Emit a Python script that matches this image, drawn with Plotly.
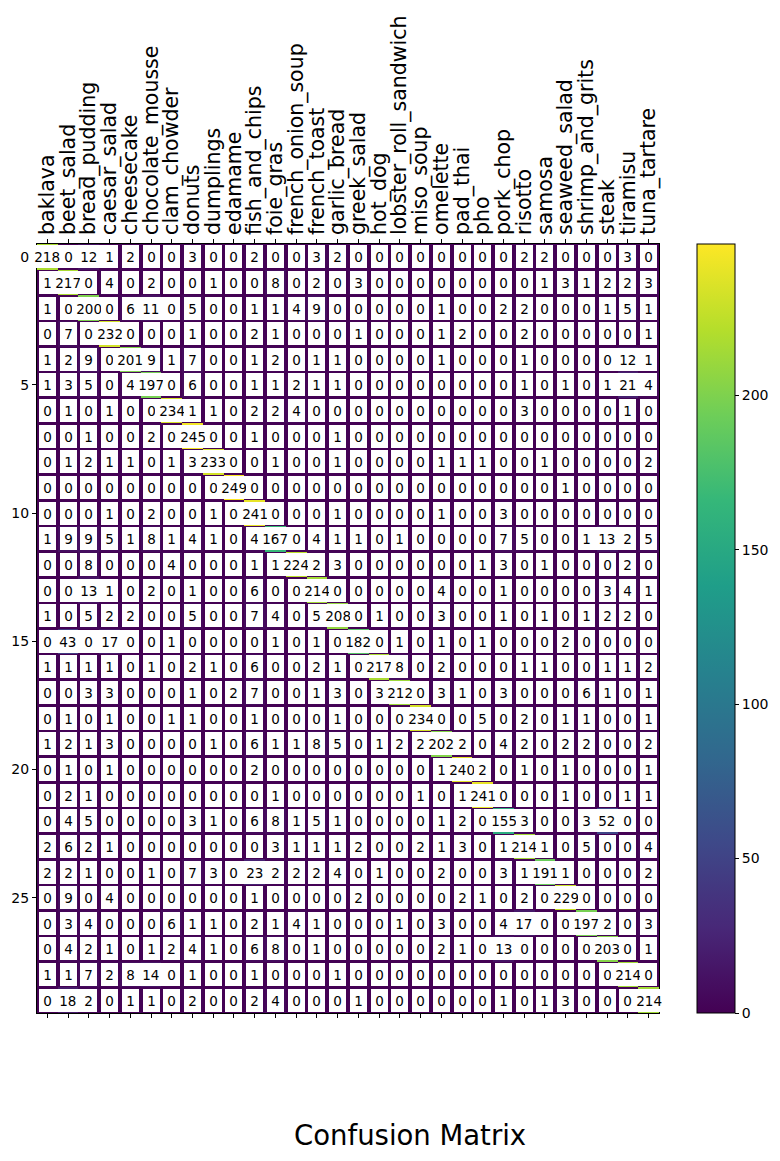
import plotly.graph_objects as go

class_names = [
    "baklava", "beet_salad", "bread_pudding", "caesar_salad", "cheesecake",
    "chocolate_mousse", "clam_chowder", "donuts", "dumplings", "edamame",
    "fish_and_chips", "foie_gras", "french_onion_soup", "french_toast",
    "garlic_bread", "greek_salad", "hot_dog", "lobster_roll_sandwich",
    "miso_soup", "omelette", "pad_thai", "pho", "pork_chop", "risotto",
    "samosa", "seaweed_salad", "shrimp_and_grits", "steak", "tiramisu",
    "tuna_tartare",
]

row_indices = list(range(30))

confusion_rows = [
    [218, 0, 12, 1, 2, 0, 0, 3, 0, 0, 2, 0, 0, 3, 2, 0, 0, 0, 0, 0, 0, 0, 0, 2, 2, 0, 0, 0, 3, 0],
    [1, 217, 0, 4, 0, 2, 0, 0, 1, 0, 0, 8, 0, 2, 0, 3, 0, 0, 0, 0, 0, 0, 0, 0, 1, 3, 1, 2, 2, 3],
    [1, 0, 200, 0, 6, 11, 0, 5, 0, 0, 1, 1, 4, 9, 0, 0, 0, 0, 0, 1, 0, 0, 2, 2, 0, 0, 0, 1, 5, 1],
    [0, 7, 0, 232, 0, 0, 0, 1, 0, 0, 2, 1, 0, 0, 0, 1, 0, 0, 0, 1, 2, 0, 0, 2, 0, 0, 0, 0, 0, 1],
    [1, 2, 9, 0, 201, 9, 1, 7, 0, 0, 1, 2, 0, 1, 1, 0, 0, 0, 0, 1, 0, 0, 0, 1, 0, 0, 0, 0, 12, 1],
    [1, 3, 5, 0, 4, 197, 0, 6, 0, 0, 1, 1, 2, 1, 1, 0, 0, 0, 0, 0, 0, 0, 0, 1, 0, 1, 0, 1, 21, 4],
    [0, 1, 0, 1, 0, 0, 234, 1, 1, 0, 2, 2, 4, 0, 0, 0, 0, 0, 0, 0, 0, 0, 0, 3, 0, 0, 0, 0, 1, 0],
    [0, 0, 1, 0, 0, 2, 0, 245, 0, 0, 1, 0, 0, 0, 1, 0, 0, 0, 0, 0, 0, 0, 0, 0, 0, 0, 0, 0, 0, 0],
    [0, 1, 2, 1, 1, 0, 1, 3, 233, 0, 0, 1, 0, 0, 1, 0, 0, 0, 0, 1, 1, 1, 0, 0, 1, 0, 0, 0, 0, 2],
    [0, 0, 0, 0, 0, 0, 0, 0, 0, 249, 0, 0, 0, 0, 0, 0, 0, 0, 0, 0, 0, 0, 0, 0, 0, 1, 0, 0, 0, 0],
    [0, 0, 0, 1, 0, 2, 0, 0, 1, 0, 241, 0, 0, 0, 1, 0, 0, 0, 0, 1, 0, 0, 3, 0, 0, 0, 0, 0, 0, 0],
    [1, 9, 9, 5, 1, 8, 1, 4, 1, 0, 4, 167, 0, 4, 1, 1, 0, 1, 0, 0, 0, 0, 7, 5, 0, 0, 1, 13, 2, 5],
    [0, 0, 8, 0, 0, 0, 4, 0, 0, 0, 1, 1, 224, 2, 3, 0, 0, 0, 0, 0, 0, 1, 3, 0, 1, 0, 0, 0, 2, 0],
    [0, 0, 13, 1, 0, 2, 0, 1, 0, 0, 6, 0, 0, 214, 0, 0, 0, 0, 0, 4, 0, 0, 1, 0, 0, 0, 0, 3, 4, 1],
    [1, 0, 5, 2, 2, 0, 0, 5, 0, 0, 7, 4, 0, 5, 208, 0, 1, 0, 0, 3, 0, 0, 1, 0, 1, 0, 1, 2, 2, 0],
    [0, 43, 0, 17, 0, 0, 1, 0, 0, 0, 0, 1, 0, 1, 0, 182, 0, 1, 0, 1, 0, 1, 0, 0, 0, 2, 0, 0, 0, 0],
    [1, 1, 1, 1, 0, 1, 0, 2, 1, 0, 6, 0, 0, 2, 1, 0, 217, 8, 0, 2, 0, 0, 0, 1, 1, 0, 0, 1, 1, 2],
    [0, 0, 3, 3, 0, 0, 0, 1, 0, 2, 7, 0, 0, 1, 3, 0, 3, 212, 0, 3, 1, 0, 3, 0, 0, 0, 6, 1, 0, 1],
    [0, 1, 0, 1, 0, 0, 1, 1, 0, 0, 1, 0, 0, 0, 1, 0, 0, 0, 234, 0, 0, 5, 0, 2, 0, 1, 1, 0, 0, 1],
    [1, 2, 1, 3, 0, 0, 0, 0, 1, 0, 6, 1, 1, 8, 5, 0, 1, 2, 2, 202, 2, 0, 4, 2, 0, 2, 2, 0, 0, 2],
    [0, 1, 0, 1, 0, 0, 0, 0, 0, 0, 2, 0, 0, 0, 0, 0, 0, 0, 0, 1, 240, 2, 0, 1, 0, 1, 0, 0, 0, 1],
    [0, 2, 1, 0, 0, 0, 0, 0, 0, 0, 0, 1, 0, 0, 0, 0, 0, 0, 1, 0, 1, 241, 0, 0, 0, 1, 0, 0, 1, 1],
    [0, 4, 5, 0, 0, 0, 0, 3, 1, 0, 6, 8, 1, 5, 1, 0, 0, 0, 0, 1, 2, 0, 155, 3, 0, 0, 3, 52, 0, 0],
    [2, 6, 2, 1, 0, 0, 0, 0, 0, 0, 0, 3, 1, 1, 1, 2, 0, 0, 2, 1, 3, 0, 1, 214, 1, 0, 5, 0, 0, 4],
    [2, 2, 1, 0, 0, 1, 0, 7, 3, 0, 23, 2, 2, 2, 4, 0, 1, 0, 0, 2, 0, 0, 3, 1, 191, 1, 0, 0, 0, 2],
    [0, 9, 0, 4, 0, 0, 0, 0, 0, 0, 1, 0, 0, 0, 0, 2, 0, 0, 0, 0, 2, 1, 0, 2, 0, 229, 0, 0, 0, 0],
    [0, 3, 4, 0, 0, 0, 6, 1, 1, 0, 2, 1, 4, 1, 0, 0, 0, 1, 0, 3, 0, 0, 4, 17, 0, 0, 197, 2, 0, 3],
    [0, 4, 2, 1, 0, 1, 2, 4, 1, 0, 6, 8, 0, 1, 0, 0, 0, 0, 0, 2, 1, 0, 13, 0, 0, 0, 0, 203, 0, 1],
    [1, 1, 7, 2, 8, 14, 0, 1, 0, 0, 1, 0, 0, 0, 1, 0, 0, 0, 0, 0, 0, 0, 0, 0, 0, 0, 0, 0, 214, 0],
    [0, 18, 2, 0, 1, 1, 0, 2, 0, 0, 2, 4, 0, 0, 0, 1, 0, 0, 0, 0, 0, 0, 1, 0, 1, 3, 0, 0, 0, 214],
]

y_tick_values = [0, 5, 10, 15, 20, 25]
colorbar_ticks = [0, 50, 100, 150, 200]

FONT = "DejaVu Sans"
zmax = max(max(r) for r in confusion_rows)

fig = go.Figure(
    go.Heatmap(
        z=confusion_rows,
        x=row_indices,
        y=row_indices,
        colorscale="Viridis",
        zmin=0,
        zmax=zmax,
        colorbar=dict(
            x=(697 - 37) / 623,
            xanchor="left",
            y=0.5,
            yanchor="middle",
            len=1.0,
            lenmode="fraction",
            thickness=38,
            thicknessmode="pixels",
            outlinewidth=1,
            outlinecolor="black",
            tickvals=colorbar_ticks,
            ticks="outside",
            ticklen=4,
            tickcolor="black",
            tickfont=dict(family=FONT, size=14, color="black"),
            xpad=0,
            ypad=0,
        ),
        hoverinfo="skip",
    )
)

annotations = []
for i, row in enumerate(confusion_rows):
    for j, v in enumerate(row):
        s = str(v)
        annotations.append(
            dict(
                x=j,
                y=i,
                xref="x",
                yref="y",
                text=s,
                showarrow=False,
                font=dict(family=FONT, size=13.5, color="black"),
                bgcolor="white",
                borderpad=0,
                borderwidth=0,
                width=8.6 * len(s) + 8.4,
                height=23,
                align="center",
                valign="middle",
            )
        )

annotations.append(
    dict(
        x=(411 - 37) / 623,
        y=(1013 - 1135) / 769,
        xref="paper",
        yref="paper",
        text="Confusion Matrix",
        showarrow=False,
        font=dict(family=FONT, size=27.5, color="black"),
        xanchor="center",
        yanchor="middle",
    )
)

fig.update_layout(
    width=780,
    height=1161,
    margin=dict(l=37, r=120, t=244, b=148),
    paper_bgcolor="white",
    plot_bgcolor="white",
    annotations=annotations,
    xaxis=dict(
        side="top",
        range=[-0.5, 29.5],
        tickvals=row_indices,
        ticktext=class_names,
        tickangle=-90,
        tickfont=dict(family=FONT, size=20.5, color="black"),
        ticks="outside",
        ticklen=4,
        tickcolor="black",
        showline=True,
        linecolor="black",
        linewidth=1,
        mirror="ticks",
        showgrid=False,
        zeroline=False,
        automargin=False,
    ),
    yaxis=dict(
        range=[29.5, -0.5],
        tickvals=y_tick_values,
        tickfont=dict(family=FONT, size=14, color="black"),
        ticks="outside",
        ticklen=4,
        tickcolor="black",
        showline=True,
        linecolor="black",
        linewidth=1,
        mirror=True,
        showgrid=False,
        zeroline=False,
        automargin=False,
    ),
)

fig.write_html(
    "out.html",
    config={"displayModeBar": False},
    post_script="document.body.style.margin='0';document.body.style.overflow='hidden';",
)
